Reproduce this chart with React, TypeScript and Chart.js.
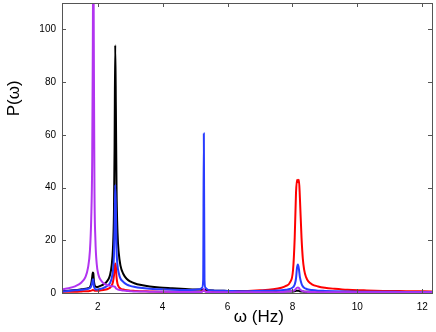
import React, { useEffect, useRef } from "react";
import { Chart, registerables } from "chart.js";

Chart.register(...registerables);

// Frequency grid (Hz)
const omega = [
  0.9, 1.1, 1.3, 1.5, 1.62, 1.7, 1.76, 1.8, 1.83, 1.85, 1.865, 1.88, 1.9, 1.93, 1.97, 2.02, 2.1, 2.17, 2.25, 2.32,
  2.38, 2.43, 2.47, 2.5, 2.52, 2.54, 2.56, 2.58, 2.61, 2.65, 2.7, 2.79, 2.9, 3.0, 3.15, 3.3, 3.6, 3.9, 4.3, 4.7,
  5.0, 5.15, 5.22, 5.25, 5.27, 5.29, 5.32, 5.4, 5.6, 6.0, 6.5, 7.0, 7.4, 7.66, 7.8, 7.92, 8.02, 8.07, 8.11, 8.14,
  8.17, 8.2, 8.23, 8.28, 8.32, 8.36, 8.42, 8.49, 8.6, 8.79, 9.0, 9.3, 9.7, 10.2, 10.8, 11.5, 12.3,
];

const purple = [
  1.4, 1.8, 2.5, 4.0, 6.0, 9.5, 16, 28, 50, 95, 135, 95, 40, 20, 11, 7, 4.8, 3.8, 3.2, 2.9,
  2.7, 2.6, 2.6, 2.5, 2.4, 2.2, 1.8, 1.6, 1.4, 1.2, 1.1, 0.9, 0.8, 0.7, 0.6, 0.6, 0.5, 0.5, 0.4, 0.4,
  0.4, 0.4, 0.5, 0.8, 1.5, 0.8, 0.5, 0.4, 0.3, 0.3, 0.3, 0.3, 0.3, 0.4, 0.5, 0.6, 0.8, 1.1, 1.6, 2.0,
  2.1, 1.9, 1.4, 0.9, 0.7, 0.6, 0.5, 0.4, 0.4, 0.3, 0.3, 0.3, 0.3, 0.3, 0.3, 0.3, 0.3,
];

const black = [
  0.7, 0.9, 1.1, 1.4, 1.6, 1.8, 2.2, 3.5, 6, 7.8, 7.5, 5, 3.2, 2.4, 2.3, 2.4, 2.8, 3.2, 3.9, 5,
  6.8, 10.5, 17, 30, 55, 94, 70, 40, 23, 15, 10.5, 7.2, 5.3, 4.4, 3.6, 3.1, 2.5, 2.1, 1.8, 1.5,
  1.3, 1.3, 1.2, 1.2, 1.2, 1.1, 1.1, 1.0, 0.9, 0.8, 0.7, 0.6, 0.6, 0.6, 0.6, 0.6, 0.6, 0.7, 0.8, 0.9,
  0.9, 0.8, 0.7, 0.6, 0.6, 0.5, 0.5, 0.5, 0.5, 0.5, 0.4, 0.4, 0.4, 0.4, 0.4, 0.4, 0.4,
];

const blue = [
  0.6, 0.8, 1.0, 1.2, 1.4, 1.6, 1.9, 2.6, 4, 5.2, 5, 3, 1.9, 1.4, 1.3, 1.4, 1.6, 1.9, 2.3, 2.9,
  3.8, 5.5, 8.5, 14, 24, 41, 32, 17, 10.5, 7.5, 5.5, 4.2, 3.2, 2.7, 2.3, 2.0, 1.6, 1.4, 1.2, 1.1,
  1.2, 1.4, 2, 5, 60.5, 5, 2, 1.2, 0.9, 0.8, 0.7, 0.8, 0.9, 1.0, 1.2, 1.5, 2.2, 3.2, 5.5, 9.5,
  10.8, 9, 6, 3.5, 2.5, 2, 1.6, 1.3, 1.1, 0.9, 0.8, 0.7, 0.6, 0.5, 0.5, 0.4, 0.4,
];

const red = [
  0.4, 0.5, 0.5, 0.6, 0.7, 0.7, 0.8, 0.9, 1.0, 1.1, 1.1, 1.0, 0.9, 0.9, 0.9, 0.9, 1.0, 1.1, 1.3, 1.6,
  2.0, 2.8, 4.2, 6.5, 9, 11.2, 10, 6, 3.5, 2.3, 1.7, 1.3, 1.0, 0.9, 0.8, 0.7, 0.6, 0.5, 0.5, 0.5,
  0.5, 0.5, 0.6, 0.8, 1.2, 0.8, 0.6, 0.5, 0.5, 0.6, 0.7, 1.0, 1.4, 2.0, 2.7, 3.9, 8.9, 21, 38, 43,
  42, 43, 36, 21, 13, 8.9, 6, 4.4, 3.3, 2.5, 2.0, 1.6, 1.2, 1.0, 0.8, 0.7, 0.6,
];

const xTicks = [2, 4, 6, 8, 10, 12];
const yTicks = [0, 20, 40, 60, 80, 100];

const pts = (ys: number[]) => omega.map((x, i) => ({ x, y: ys[i] }));

const framePlugin = {
  id: "frameTicks",
  afterDatasetsDraw(chart: any) {
    const { ctx, chartArea } = chart;
    const { left, right, top, bottom } = chartArea;
    const xs = chart.scales.x;
    const ys = chart.scales.y;
    const len = 4;
    ctx.save();
    ctx.strokeStyle = "#555";
    ctx.lineWidth = 1;
    ctx.beginPath();
    xTicks.forEach((v) => {
      const px = Math.round(xs.getPixelForValue(v)) + 0.5;
      ctx.moveTo(px, bottom);
      ctx.lineTo(px, bottom - len);
      ctx.moveTo(px, top);
      ctx.lineTo(px, top + len);
    });
    yTicks.forEach((v) => {
      const py = Math.round(ys.getPixelForValue(v)) + 0.5;
      ctx.moveTo(left, py);
      ctx.lineTo(left + len, py);
      ctx.moveTo(right, py);
      ctx.lineTo(right - len, py);
    });
    ctx.stroke();
    ctx.strokeRect(Math.round(left) + 0.5, Math.round(top) + 0.5, Math.round(right - left), Math.round(bottom - top));
    ctx.restore();
  },
};

export default function App() {
  const ref = useRef<HTMLCanvasElement>(null);
  useEffect(() => {
    if (!ref.current) return;
    const font = "'Liberation Sans', Arial, sans-serif";
    const ds = (label: string, data: number[], color: string) => ({
      label,
      data: pts(data),
      borderColor: color,
      backgroundColor: color,
      borderWidth: 2,
      pointRadius: 0,
      fill: false,
      cubicInterpolationMode: "monotone" as const,
    });
    const chart = new Chart(ref.current, {
      type: "line",
      data: {
        datasets: [
          ds("purple", purple, "rgb(178,52,240)"),
          ds("blue", blue, "rgb(40,60,255)"),
          ds("red", red, "rgb(255,0,0)"),
          ds("black", black, "rgb(0,0,0)"),
        ],
      },
      options: {
        animation: false,
        responsive: false,
        devicePixelRatio: 1,
        layout: { padding: { left: 0, top: 3, right: 4, bottom: 0 } },
        plugins: { legend: { display: false }, tooltip: { enabled: false } },
        scales: {
          x: {
            type: "linear",
            min: 0.9,
            max: 12.3,
            border: { display: false },
            grid: { display: false, drawTicks: false },
            ticks: {
              stepSize: 2,
              includeBounds: false,
              padding: 8,
              color: "#000",
              font: { family: font, size: 10 },
              maxRotation: 0,
            },
            title: {
              display: true,
              text: "     ω (Hz)",
              color: "#000",
              font: { family: font, size: 17 },
              padding: { top: 0, bottom: 4 },
            },
            afterFit: (s: any) => {
              s.height = 39;
              s.paddingLeft = 0;
              s.paddingRight = 0;
            },
          },
          y: {
            type: "linear",
            min: 0,
            max: 110,
            border: { display: false },
            grid: { display: false, drawTicks: false },
            ticks: {
              stepSize: 20,
              includeBounds: false,
              padding: 6,
              color: "#000",
              font: { family: font, size: 10 },
            },
            title: {
              display: true,
              text: "                     P(ω)",
              align: "center",
              color: "#000",
              font: { family: font, size: 17 },
              padding: { top: 4, bottom: 0 },
            },
            afterFit: (s: any) => {
              s.width = 62;
              s.paddingTop = 0;
              s.paddingBottom = 0;
            },
          },
        },
      },
      plugins: [framePlugin],
    });
    return () => chart.destroy();
  }, []);
  return (
    <div style={{ position: "absolute", left: 0, top: 0, width: 436, height: 332, background: "#fff" }}>
      <canvas ref={ref} width={436} height={332} />
    </div>
  );
}
